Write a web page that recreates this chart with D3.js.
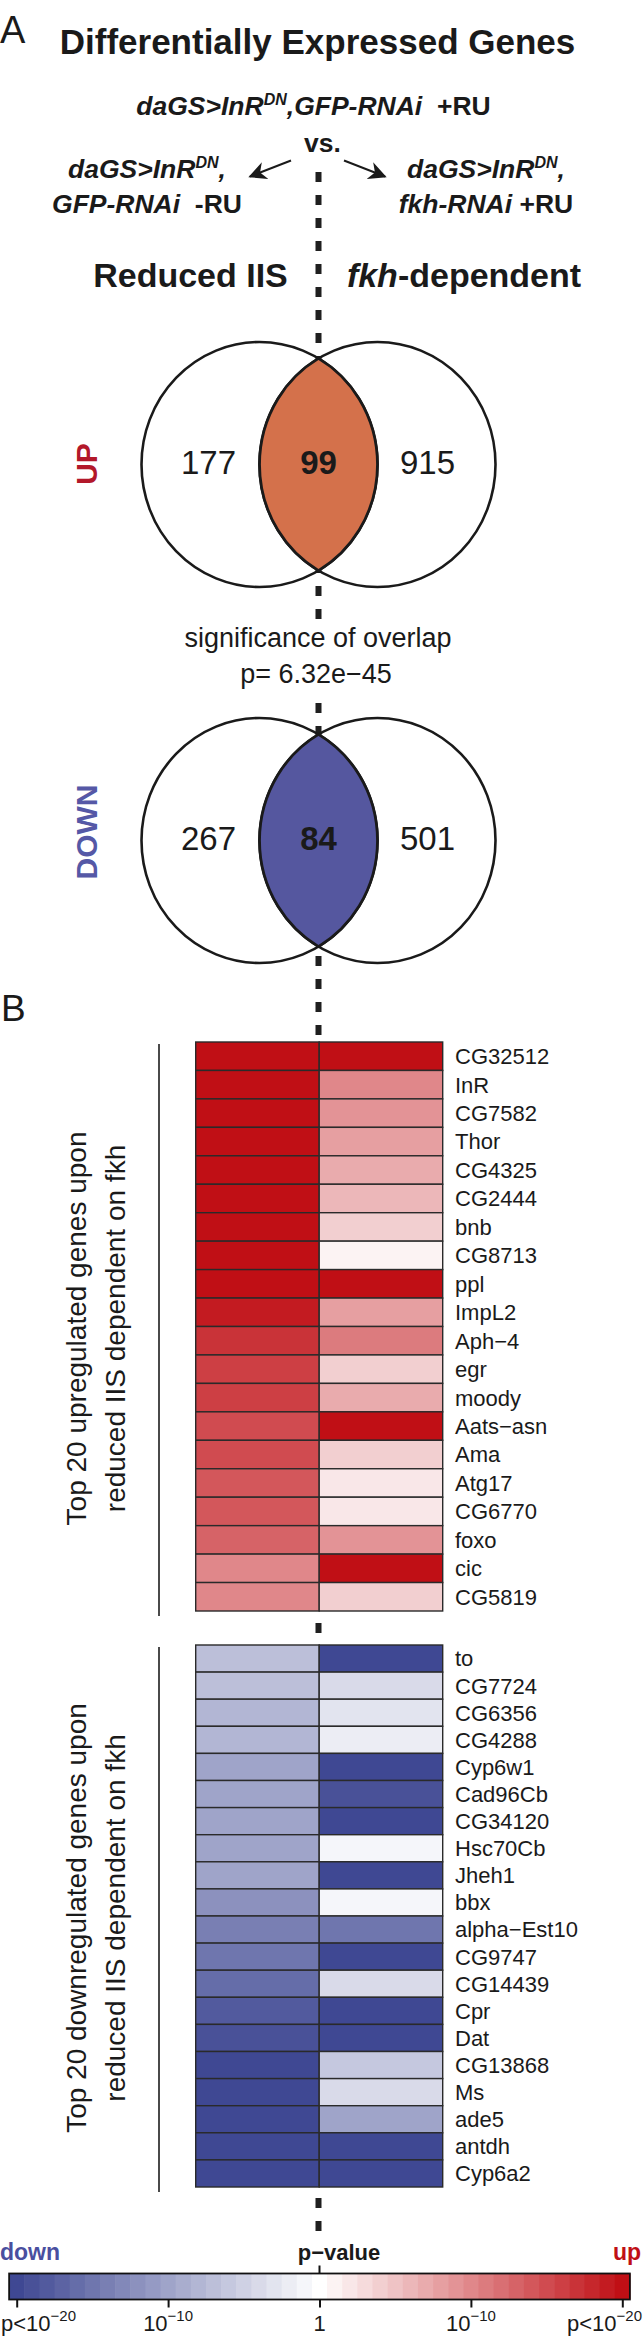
<!DOCTYPE html>
<html><head><meta charset="utf-8">
<script src="https://cdn.jsdelivr.net/npm/d3@7"></script>
<style>
body{margin:0;background:#fff}
svg{display:block}
text{font-family:"Liberation Sans", Arial, Helvetica, sans-serif; fill:#1a1a1a}
</style>
</head><body>
<svg id="chart" width="643" height="2339"></svg>
<script>
// ---------------- DATA ----------------
const upGenes = ["CG32512","InR","CG7582","Thor","CG4325","CG2444","bnb","CG8713","ppl","ImpL2",
  "Aph\u22124","egr","moody","Aats\u2212asn","Ama","Atg17","CG6770","foxo","cic","CG5819"];
// signed -log10(p) : positive = up
const upReduced = [20,20,20,20,20,20,20,20,20,19,17,16,16,15,15,14,14,13,10,10];
const upFkh     = [20,10, 9, 8, 7, 6, 4, 1,20, 8,11, 4, 7,20, 4, 2, 2, 9,20, 4];

const downGenes = ["to","CG7724","CG6356","CG4288","Cyp6w1","Cad96Cb","CG34120","Hsc70Cb","Jheh1","bbx",
  "alpha\u2212Est10","CG9747","CG14439","Cpr","Dat","CG13868","Ms","ade5","antdh","Cyp6a2"];
const downReduced = [-7,-7,-8,-8,-10,-10,-10,-10,-10,-12,-14,-15,-16,-18,-19,-20,-20,-20,-20,-20];
const downFkh     = [-20,-4,-3,-2,-20,-19,-20,-1,-20,-1,-15,-20,-4,-20,-20,-6,-4,-10,-20,-20];

const columns = ["Reduced IIS","fkh-dependent"];
const vennUpCounts   = [177, 99, 915];
const vennDownCounts = [267, 84, 501];
const overlapText = ["significance of overlap", "p= 6.32e\u221245"];

const scaleTicks = [-20, -10, 0, 10, 20];
const scaleTickLabels = [["p<10","\u221220"],["10","\u221210"],["1",""],["10","\u221210"],["p<10","\u221220"]];

// ---------------- SETUP ----------------
const svg = d3.select("#chart");
const BLUE = "#3f4893", RED = "#c00f15";
const color = d3.scaleLinear().domain([-20,0,20]).range([BLUE,"#ffffff",RED]).clamp(true);
const midX = 318.5;

const defs = svg.append("defs");
defs.append("marker").attr("id","ah").attr("viewBox","0 0 10 10").attr("refX",9).attr("refY",5)
  .attr("markerWidth",9).attr("markerHeight",9).attr("orient","auto-start-reverse")
  .append("path").attr("d","M0,0 L10,5 L0,10 L3,5 Z").attr("fill","#1a1a1a");

// dashed center line (behind everything)
const dashG = svg.append("g");
[[172,620],[703,2232]].forEach(([a,b])=>{
  dashG.append("line").attr("x1",midX).attr("x2",midX).attr("y1",a).attr("y2",b)
    .attr("stroke","#1f1f1f").attr("stroke-width",6).attr("stroke-dasharray","10,13");
});

// rich text helper
function rich(x, y, parts, opts={}) {
  const size = opts.size||28;
  const t = svg.append("text").attr("x",x).attr("y",y)
    .attr("text-anchor",opts.anchor||"middle")
    .style("font-size",size+"px")
    .style("font-weight",opts.weight||"bold");
  if (opts.fill) t.style("fill",opts.fill);
  parts.forEach(p=>{
    const s = t.append("tspan").text(p.t);
    if (p.i) s.style("font-style","italic");
    if (p.sup) { s.attr("dy", -Math.round(size*0.38)).style("font-size",Math.round(size*0.6)+"px"); }
    if (p.down) { s.attr("dy", Math.round(size*0.38)); }
  });
  return t;
}

// ---------------- PANEL A ----------------
svg.append("text").attr("x",0).attr("y",43).style("font-size","38px").style("font-weight","normal").text("A");
rich(317.5, 54, [{t:"Differentially Expressed Genes"}], {size:35});

const gs = 26.5;
rich(313.5, 115, [{t:"daGS>InR",i:1},{t:"DN",i:1,sup:1},{t:",GFP-RNAi",i:1,down:1},{t:"\u00a0 +RU"}], {size:gs});
rich(322.5, 152, [{t:"vs."}], {size:gs});
rich(147, 178, [{t:"daGS>InR",i:1},{t:"DN",i:1,sup:1},{t:",",i:1,down:1}], {size:gs});
rich(147, 213, [{t:"GFP-RNAi",i:1},{t:"\u00a0 -RU"}], {size:gs});
rich(486, 178, [{t:"daGS>InR",i:1},{t:"DN",i:1,sup:1},{t:",",i:1,down:1}], {size:gs});
rich(486, 213, [{t:"fkh-RNAi",i:1},{t:" +RU"}], {size:gs});

svg.append("line").attr("x1",291).attr("y1",160.5).attr("x2",250).attr("y2",176.5)
  .attr("stroke","#1a1a1a").attr("stroke-width",2).attr("marker-end","url(#ah)");
svg.append("line").attr("x1",344).attr("y1",160.5).attr("x2",385).attr("y2",176.5)
  .attr("stroke","#1a1a1a").attr("stroke-width",2).attr("marker-end","url(#ah)");

rich(190.5, 287, [{t:columns[0]}], {size:34});
rich(464, 287, [{t:"fkh",i:1},{t:"-dependent"}], {size:34});

// Venn diagrams
function venn(cy, counts, lensFill, label, labelFill, labelCy) {
  const rx = 118, ry = 122.5, half = 59;
  const cxL = midX - half, cxR = midX + half;
  const g = svg.append("g");
  [cxL, cxR].forEach(cx=>{
    g.append("ellipse").attr("cx",cx).attr("cy",cy).attr("rx",rx).attr("ry",ry)
      .attr("fill","none").attr("stroke","#1a1a1a").attr("stroke-width",2.6);
  });
  const h = ry*Math.sqrt(1-(half/rx)*(half/rx));
  g.append("path")
    .attr("d",`M${midX},${cy-h} A${rx},${ry} 0 0 1 ${midX},${cy+h} A${rx},${ry} 0 0 1 ${midX},${cy-h} Z`)
    .attr("fill",lensFill).attr("stroke","#1a1a1a").attr("stroke-width",2.8);
  const xs = [cxL-51, midX, cxR+50];
  counts.forEach((c,i)=>{
    g.append("text").attr("x",xs[i]).attr("y",cy+9).attr("text-anchor","middle")
      .style("font-size","33px").style("font-weight", i===1?"bold":"normal").text(c);
  });
  g.append("text").attr("transform",`translate(97,${labelCy}) rotate(-90)`).attr("text-anchor","middle")
    .style("font-size","30px").style("font-weight","bold").style("fill",labelFill).text(label);
}
venn(464.5, vennUpCounts, "#d4714b", "UP", "#b3182a", 464);
venn(840.5, vennDownCounts, "#55579f", "DOWN", "#5558a6", 832);

rich(318, 647, [{t:overlapText[0]}], {size:27, weight:"normal"});
rich(316, 683, [{t:overlapText[1]}], {size:27, weight:"normal"});

// ---------------- PANEL B ----------------
svg.append("text").attr("x",1).attr("y",1021).style("font-size","37px").style("font-weight","normal").text("B");

const xCol = d3.scaleBand().domain(columns).range([195.7, 442.7]);

function heatmap(genes, colA, colB, y0, y1, lines) {
  const y = d3.scaleBand().domain(genes).range([y0, y1]);
  const cells = [];
  genes.forEach((gn,i)=>{
    cells.push({gene:gn, col:columns[0], v:colA[i]});
    cells.push({gene:gn, col:columns[1], v:colB[i]});
  });
  const g = svg.append("g");
  g.selectAll("rect").data(cells).join("rect")
    .attr("x",d=>xCol(d.col)).attr("y",d=>y(d.gene))
    .attr("width",xCol.bandwidth()).attr("height",y.bandwidth())
    .attr("fill",d=>color(d.v)).attr("stroke","#2a2a2a").attr("stroke-width",1.4);
  g.selectAll("text.gene").data(genes).join("text").attr("class","gene")
    .attr("x",455).attr("y",d=>y(d)+y.bandwidth()/2).attr("dy","0.36em")
    .style("font-size","22px").text(d=>d);
  // bracket line
  g.append("line").attr("x1",159).attr("x2",159).attr("y1",y0+2).attr("y2",y1+5)
    .attr("stroke","#4a4a4a").attr("stroke-width",2);
  // rotated label
  const cyL = (y0+y1)/2 + 2;
  const t = g.append("text").attr("transform",`translate(0,${cyL}) rotate(-90)`).attr("text-anchor","middle")
    .style("font-size","28px");
  t.append("tspan").attr("x",0).attr("y",86).text(lines[0]);
  t.append("tspan").attr("x",0).attr("y",125).text(lines[1]);
}
heatmap(upGenes, upReduced, upFkh, 1042, 1611, ["Top 20 upregulated genes upon","reduced IIS dependent on fkh"]);
heatmap(downGenes, downReduced, downFkh, 1645, 2187, ["Top 20 downregulated genes upon","reduced IIS dependent on fkh"]);

// ---------------- COLOR SCALE ----------------
const cbX = d3.scaleLinear().domain([-20,20]).range([16.7, 622.3]);
const step = cbX(1)-cbX(0);
const cbTop = 2273.5, cbH = 26;
svg.append("g").selectAll("rect").data(d3.range(-20,21)).join("rect")
  .attr("x",d=>cbX(d)-step/2).attr("y",cbTop).attr("width",step+0.6).attr("height",cbH)
  .attr("fill",d=>color(d));
svg.append("rect").attr("x",cbX(-20)-step/2).attr("y",cbTop).attr("width",cbX(20)-cbX(-20)+step).attr("height",cbH)
  .attr("fill","none").attr("stroke","#111").attr("stroke-width",1.8);
const axisG = svg.append("g").attr("transform",`translate(0,${cbTop+cbH})`)
  .call(d3.axisBottom(cbX).tickValues(scaleTicks).tickSize(8).tickFormat(""));
axisG.select(".domain").remove();
axisG.selectAll("line").attr("stroke","#111").attr("stroke-width",2);
svg.append("line").attr("x1",cbX(0)).attr("x2",cbX(0)).attr("y1",cbTop-8).attr("y2",cbTop)
  .attr("stroke","#111").attr("stroke-width",2);

scaleTicks.forEach((v,i)=>{
  const lab = scaleTickLabels[i];
  let x = cbX(v), anchor = "middle";
  if (i===0) { x = 1; anchor = "start"; }
  if (i===scaleTicks.length-1) { x = 642; anchor = "end"; }
  const t = svg.append("text").attr("x",x).attr("y",2331).attr("text-anchor",anchor).style("font-size","22px");
  t.append("tspan").text(lab[0]);
  if (lab[1]) t.append("tspan").attr("dy",-10).style("font-size","15px").text(lab[1]);
});

svg.append("text").attr("x",0).attr("y",2260).style("font-size","23px").style("font-weight","bold")
  .style("fill","#4a4f9f").text("down");
svg.append("text").attr("x",339).attr("y",2260).attr("text-anchor","middle").style("font-size","22px")
  .style("font-weight","bold").text("p\u2212value");
svg.append("text").attr("x",641).attr("y",2260).attr("text-anchor","end").style("font-size","23px")
  .style("font-weight","bold").style("fill","#c00f15").text("up");
</script>
</body></html>
